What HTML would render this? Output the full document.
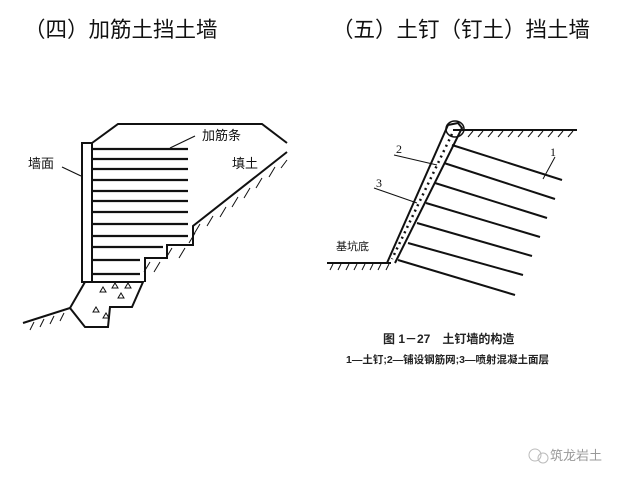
<!DOCTYPE html>
<html><head><meta charset="utf-8"><style>
body{margin:0;width:640px;height:480px;background:#fff;overflow:hidden;position:relative;font-family:"Liberation Sans","Noto Sans CJK SC",sans-serif}
.t{position:absolute;font-size:21.5px;color:#111;white-space:nowrap;line-height:1}
</style></head><body>
<div class="t" style="left:24px;top:20px">（四）加筋土挡土墙</div>
<div class="t" style="left:332px;top:20px">（五）土钉（钉土）挡土墙</div>
<svg width="640" height="480" style="position:absolute;left:0;top:0" font-family="Liberation Sans,Noto Sans CJK SC,sans-serif">
<g stroke="#111" stroke-width="2" fill="none">
<rect x="82" y="143" width="10" height="139" fill="#fff"/>
<polyline points="92,143 118,124 262,124 287,143"/>
<polyline points="287,152 193,226 193,245 167,245 167,258 145,258 145,282"/>
<polygon points="85,282 143,282 132,307 110,307 108,327 85,327 70,308" fill="#fff"/>
<polyline points="23,323 70,308"/>
<g stroke-width="2.2">
<line x1="92" y1="149" x2="188" y2="149"/><line x1="92" y1="159" x2="188" y2="159"/>
<line x1="92" y1="169" x2="188" y2="169"/><line x1="92" y1="180" x2="188" y2="180"/>
<line x1="92" y1="191" x2="188" y2="191"/><line x1="92" y1="201" x2="188" y2="201"/>
<line x1="92" y1="212" x2="188" y2="212"/><line x1="92" y1="224" x2="188" y2="224"/>
<line x1="92" y1="236" x2="188" y2="236"/><line x1="92" y1="247" x2="163" y2="247"/>
<line x1="92" y1="260" x2="140" y2="260"/><line x1="92" y1="274" x2="140" y2="274"/>
</g>
<line x1="170" y1="148" x2="195" y2="136" stroke-width="1.2"/>
<line x1="62" y1="167" x2="81" y2="176" stroke-width="1.2"/>
</g>
<g stroke="#111" stroke-width="1" >
<path d="M287,160 l-6,8 M275,167 l-6,10 M262,178 l-6,10 M250,188 l-6,10 M238,197 l-6,10 M226,207 l-6,10 M213,216 l-6,10 M200,224 l-6,10 M195,233 l-6,10 M185,248 l-6,10 M172,248 l-6,10 M160,262 l-6,10 M150,262 l-6,10 M30,330 l4,-8 M40,327 l4,-8 M50,324 l4,-8 M60,321 l4,-8"/>
<path d="M100,292 l3,-5 l3,5z M118,298 l3,-5 l3,5z M112,288 l3,-5 l3,5z M93,312 l3,-5 l3,5z M125,288 l3,-5 l3,5z M103,318 l3,-5 l3,5z" fill="none"/>
</g>
<text x="202" y="140" font-size="13" fill="#111">加筋条</text>
<text x="232" y="168" font-size="13" fill="#111">填土</text>
<text x="28" y="168" font-size="13" fill="#111">墙面</text>
<g stroke="#111" stroke-width="2" fill="none">
<line x1="453" y1="130" x2="577" y2="130"/>
<polyline points="387,263 448,125 458,123 462,128 395,263"/>
<ellipse cx="455" cy="129" rx="9" ry="8" stroke-width="1.5"/>
<line x1="327" y1="263" x2="391" y2="263"/>
<line x1="452" y1="145" x2="562" y2="180"/><line x1="444" y1="163" x2="555" y2="199"/>
<line x1="435" y1="183" x2="547" y2="218"/><line x1="426" y1="203" x2="540" y2="237"/>
<line x1="417" y1="223" x2="532" y2="256"/><line x1="408" y1="243" x2="523" y2="275"/>
<line x1="398" y1="260" x2="515" y2="295"/>
</g>
<g stroke="#111" stroke-width="1">
<path d="M330,270 l3,-6 M338,270 l3,-6 M346,270 l3,-6 M354,270 l3,-6 M362,270 l3,-6 M370,270 l3,-6 M378,270 l3,-6 M386,270 l3,-6 M468,137 l5,-6 M478,137 l5,-6 M488,137 l5,-6 M498,137 l5,-6 M508,137 l5,-6 M518,137 l5,-6 M528,137 l5,-6 M538,137 l5,-6 M548,137 l5,-6 M558,137 l5,-6 M568,137 l5,-6"/>
<path d="M394,155 l43,10 M374,188 l43,15 M555,157 l-12,22" fill="none"/>
<line x1="452" y1="134" x2="392" y2="259" stroke-dasharray="2 4" stroke-width="2.5"/>
</g>
<text x="396" y="153" font-size="12" fill="#111" font-family="Liberation Serif">2</text>
<text x="376" y="187" font-size="12" fill="#111" font-family="Liberation Serif">3</text>
<text x="550" y="156" font-size="12" fill="#111" font-family="Liberation Serif">1</text>
<text x="336" y="250" font-size="11" fill="#111">基坑底</text>
<text x="383" y="343" font-size="12" fill="#222" font-weight="bold">图 1－27　土钉墙的构造</text>
<text x="346" y="363" font-size="10.5" fill="#222" font-weight="bold">1—土钉;2—铺设钢筋网;3—喷射混凝土面层</text>
<text x="550" y="460" font-size="13" fill="#999">筑龙岩土</text>
<circle cx="535" cy="455" r="6" fill="none" stroke="#bbb"/><circle cx="543" cy="458" r="5" fill="none" stroke="#bbb"/>
</svg>
</body></html>
